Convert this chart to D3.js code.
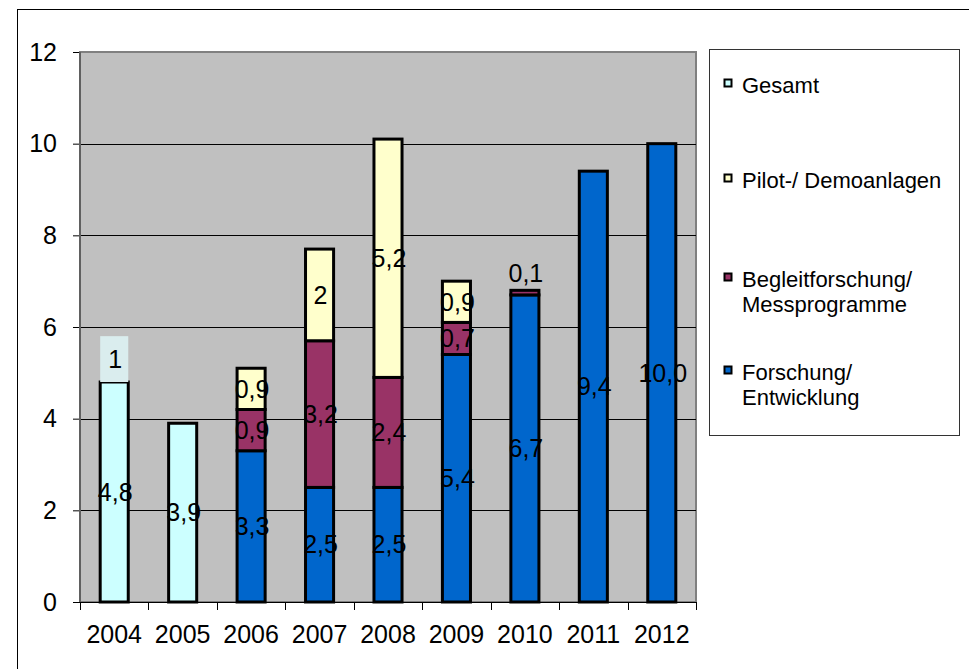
<!DOCTYPE html>
<html>
<head>
<meta charset="utf-8">
<script src="https://cdn.jsdelivr.net/npm/d3@7"></script>
<style>
  body { margin: 0; background: #fff; }
  svg text { font-family: "Liberation Sans", Arial, sans-serif; fill: #000; }
</style>
</head>
<body>
<div id="chart"></div>
<script>
var years = ["2004", "2005", "2006", "2007", "2008", "2009", "2010", "2011", "2012"];

// series values (Mio. EUR), bottom to top of the stack
var gesamt    = [4.8, 3.9, 0, 0, 0, 0, 0, 0, 0];
var forschung = [0, 0, 3.3, 2.5, 2.5, 5.4, 6.7, 9.4, 10.0];
var begleit   = [0, 0, 0.9, 3.2, 2.4, 0.7, 0.1, 0, 0];
var pilot     = [0, 0, 0.9, 2.0, 5.2, 0.9, 0, 0, 0];
var zusatz    = [1, 0, 0, 0, 0, 0, 0, 0, 0];

// data label texts as shown
var gesamtLabels    = ["4,8", "3,9", "", "", "", "", "", "", ""];
var forschungLabels = ["", "", "3,3", "2,5", "2,5", "5,4", "6,7", "9,4", "10,0"];
var begleitLabels   = ["", "", "0,9", "3,2", "2,4", "0,7", "0,1", "", ""];
var pilotLabels     = ["", "", "0,9", "2", "5,2", "0,9", "", "", ""];
var zusatzLabels    = ["1", "", "", "", "", "", "", "", ""];

var yTicks = [0, 2, 4, 6, 8, 10, 12];

var series = [
    { name: "Gesamt", values: gesamt, labels: gesamtLabels, fill: "#CCFFFF", stroke: "#000" },
    { name: "Forschung/ Entwicklung", values: forschung, labels: forschungLabels, fill: "#0066CC", stroke: "#000" },
    { name: "Begleitforschung/ Messprogramme", values: begleit, labels: begleitLabels, fill: "#993366", stroke: "#000" },
    { name: "Pilot-/ Demoanlagen", values: pilot, labels: pilotLabels, fill: "#FFFFCC", stroke: "#000" },
    { name: "zusatz", values: zusatz, labels: zusatzLabels, fill: "#DAEDEE", stroke: "none" }
];

var legendItems = [
    { lines: ["Gesamt"], fill: "#CCFFFF" },
    { lines: ["Pilot-/ Demoanlagen"], fill: "#FFFFCC" },
    { lines: ["Begleitforschung/", "Messprogramme"], fill: "#993366" },
    { lines: ["Forschung/", "Entwicklung"], fill: "#0066CC" }
];

var svgWidth = 969;
var svgHeight = 669;
var margin = { top: 52, left: 80 };
var width = 616;
var height = 550;

var svg = d3.select("#chart")
    .append("svg")
    .attr("width", svgWidth)
    .attr("height", svgHeight);

// outer frame (right and bottom edges run off the picture)
svg.append("rect")
    .attr("x", 17.5).attr("y", 9.5)
    .attr("width", 1000).attr("height", 1000)
    .attr("fill", "none").attr("stroke", "#000").attr("stroke-width", 1);

var chart = svg.append("g")
    .attr("transform", "translate(" + margin.left + "," + margin.top + ")");

var xScale = d3.scaleBand().domain(years).range([0, width]).padding(0);
var yScale = d3.scaleLinear().domain([0, 12]).range([height, 0]);

// plot area
chart.append("rect")
    .attr("x", 0).attr("y", 0)
    .attr("width", width).attr("height", height)
    .attr("fill", "#C0C0C0").attr("stroke", "#808080").attr("stroke-width", 2);

// gridlines
chart.append("g")
    .selectAll("line")
    .data(yTicks.filter(function(d) { return d > 0 && d < 12; }))
    .enter().append("line")
    .attr("x1", 0).attr("x2", width)
    .attr("y1", function(d) { return Math.round(yScale(d)) + 0.5; })
    .attr("y2", function(d) { return Math.round(yScale(d)) + 0.5; })
    .attr("stroke", "#000").attr("stroke-width", 1);

// stacked bars
var barWidth = xScale.bandwidth() * 0.41;
var stackData = years.map(function(year, i) {
    var base = 0;
    return series.map(function(s) {
        var seg = { year: year, y0: base, y1: base + s.values[i], label: s.labels[i], s: s };
        base += s.values[i];
        return seg;
    });
});

var bars = chart.append("g");
stackData.forEach(function(segs) {
    bars.selectAll(null)
        .data(segs.filter(function(d) { return d.y1 > d.y0; }))
        .enter().append("rect")
        .attr("x", function(d) { return xScale(d.year) + (xScale.bandwidth() - barWidth) / 2; })
        .attr("y", function(d) { return yScale(d.y1); })
        .attr("width", barWidth)
        .attr("height", function(d) { return yScale(d.y0) - yScale(d.y1); })
        .attr("fill", function(d) { return d.s.fill; })
        .attr("stroke", function(d) { return d.s.stroke; })
        .attr("stroke-width", 3);
});

// axes
var leftAxis = d3.axisLeft(yScale).tickValues(yTicks).tickSize(7).tickPadding(16);
var yAxisG = chart.append("g").call(leftAxis);
yAxisG.select(".domain").remove();
yAxisG.selectAll(".tick line").attr("stroke", "#000");
yAxisG.selectAll("text").style("font-size", "25px");

chart.append("line")
    .attr("x1", 0).attr("x2", 0).attr("y1", 0).attr("y2", height)
    .attr("stroke", "#606060").attr("stroke-width", 2);

chart.append("line")
    .attr("x1", -7).attr("x2", width).attr("y1", height + 0.5).attr("y2", height + 0.5)
    .attr("stroke", "#000").attr("stroke-width", 1);

// category boundary ticks
chart.append("g")
    .selectAll("line")
    .data(years.concat(["end"]))
    .enter().append("line")
    .attr("x1", function(d, i) { return Math.round(i * xScale.step()) + 0.5; })
    .attr("x2", function(d, i) { return Math.round(i * xScale.step()) + 0.5; })
    .attr("y1", height).attr("y2", height + 8)
    .attr("stroke", "#000");

var bottomAxis = d3.axisBottom(xScale).tickSize(0).tickPadding(23);
var xAxisG = chart.append("g")
    .attr("transform", "translate(0," + height + ")")
    .call(bottomAxis);
xAxisG.select(".domain").remove();
xAxisG.selectAll("text").style("font-size", "25px");

// data labels
var labels = chart.append("g");
stackData.forEach(function(segs) {
    labels.selectAll(null)
        .data(segs.filter(function(d) { return d.label !== ""; }))
        .enter().append("text")
        .attr("x", function(d) { return xScale(d.year) + xScale.bandwidth() / 2 + 1; })
        .attr("y", function(d) {
            var mid = (yScale(d.y0) + yScale(d.y1)) / 2;
            // tiny segment: label sits above the bar
            if (yScale(d.y0) - yScale(d.y1) < 10) mid = yScale(d.y1) - 17;
            return mid;
        })
        .attr("dy", "0.35em")
        .attr("text-anchor", "middle")
        .style("font-size", "25px")
        .text(function(d) { return d.label; });
});

// legend
var legend = svg.append("g");
legend.append("rect")
    .attr("x", 709.5).attr("y", 49.5)
    .attr("width", 250).attr("height", 386)
    .attr("fill", "#fff").attr("stroke", "#333").attr("stroke-width", 1);

var legendBaselines = [93, 188, 287, 380];
legendItems.forEach(function(item, i) {
    var by = legendBaselines[i];
    legend.append("rect")
        .attr("x", 724.5).attr("y", by - 13.5)
        .attr("width", 7).attr("height", 7)
        .attr("fill", item.fill).attr("stroke", "#000").attr("stroke-width", 2);
    item.lines.forEach(function(line, j) {
        legend.append("text")
            .attr("x", 742).attr("y", by + j * 25)
            .style("font-size", "22px")
            .text(line);
    });
});
</script>
</body>
</html>
